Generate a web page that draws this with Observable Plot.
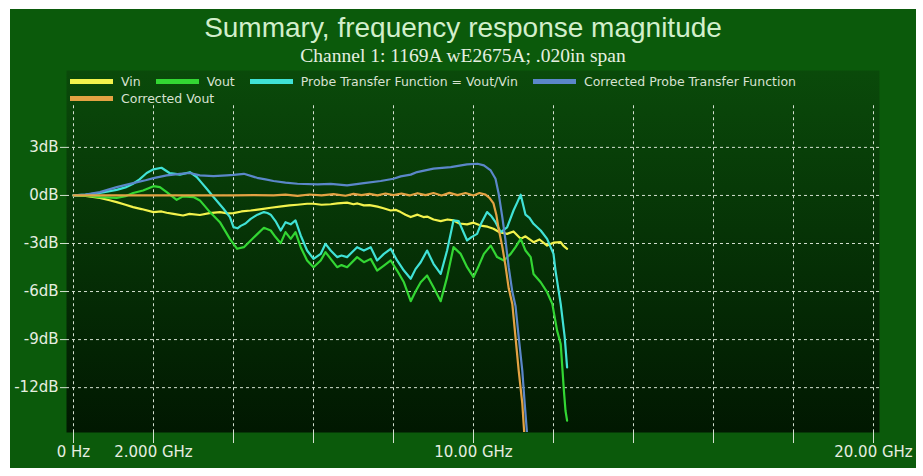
<!DOCTYPE html>
<html><head><meta charset="utf-8">
<script src="https://cdn.jsdelivr.net/npm/d3@7"></script>
<script src="https://cdn.jsdelivr.net/npm/@observablehq/plot@0.6"></script>
<style>
body{margin:0;background:#fff;}
#wrap{position:relative;width:923px;height:476px;background:#fff;overflow:hidden;}
#panel{position:absolute;left:10px;top:9px;width:906px;height:459px;background:#0b5a0b;}
#title{position:absolute;left:0;width:906px;top:5px;text-align:center;font-family:"Liberation Sans",Arial,sans-serif;font-size:28px;line-height:28px;color:#d2efcb;white-space:nowrap;}
#subtitle{position:absolute;left:0;width:906px;top:37px;text-align:center;font-family:"Liberation Serif","Times New Roman",serif;font-size:19.5px;line-height:19.5px;color:#e6f0e0;white-space:nowrap;}
#chart{position:absolute;left:0;top:53px;}
#legend{position:absolute;left:60px;top:64px;width:805px;display:flex;flex-wrap:wrap;font-family:"DejaVu Sans",sans-serif;font-size:12.5px;color:#d8e2d2;z-index:2;}
.item{display:flex;align-items:center;height:17px;line-height:17px;margin-right:15px;white-space:nowrap;}
.sw{display:inline-block;width:43px;height:5px;margin-right:8px;}
</style>
</head><body>
<div id="wrap"><div id="panel">
<div id="title">Summary, frequency response magnitude</div>
<div id="subtitle">Channel 1: 1169A wE2675A; .020in span</div>
<div id="chart"></div>
<div id="legend"></div>
</div></div>
<script>
// ---- data (GHz, dB) ----
const seriesNames = ["Vin", "Vout", "Probe Transfer Function = Vout/Vin", "Corrected Probe Transfer Function", "Corrected Vout"];
const seriesColors = ["#f2f24c", "#33d633", "#40e2d6", "#5b87c9", "#e3a243"];

const vinFreq = [0,0.3,0.66,0.9,1.08,1.3,1.49,1.7,2.0,2.2,2.33,2.5,2.74,2.9,3.16,3.4,3.66,3.85,4.0,4.2,4.43,4.7,4.93,5.2,5.4,5.6,5.84,6.0,6.2,6.43,6.6,6.84,7.0,7.1,7.26,7.4,7.6,7.75,7.93,8.05,8.18,8.3,8.43,8.6,8.75,8.84,9.0,9.18,9.35,9.5,9.65,9.84,10.0,10.18,10.35,10.5,10.65,10.84,11.0,11.18,11.3,11.5,11.65,11.84,12.0,12.18,12.25,12.34];
const vinDb   = [0,-0.03,-0.15,-0.3,-0.42,-0.58,-0.73,-0.85,-1.04,-1.0,-1.08,-1.15,-1.25,-1.15,-1.22,-1.1,-1.04,-1.12,-1.1,-1.0,-0.94,-0.85,-0.77,-0.68,-0.62,-0.58,-0.52,-0.52,-0.58,-0.55,-0.5,-0.45,-0.55,-0.5,-0.62,-0.6,-0.7,-0.8,-0.94,-0.9,-1.04,-1.2,-1.35,-1.2,-1.35,-1.32,-1.5,-1.6,-1.5,-1.56,-1.75,-1.81,-1.7,-1.88,-1.95,-2.08,-2.3,-2.4,-2.25,-2.71,-2.55,-2.92,-2.75,-3.13,-2.95,-2.92,-3.15,-3.33];

const voutFreq = [0,0.3,0.66,1.08,1.3,1.49,1.74,2.0,2.16,2.33,2.58,2.74,3.0,3.16,3.41,3.66,3.91,4.09,4.26,4.43,4.6,4.76,4.93,5.05,5.18,5.3,5.43,5.55,5.68,5.84,6.0,6.18,6.3,6.43,6.59,6.7,6.84,7.09,7.26,7.43,7.59,7.76,7.93,8.09,8.26,8.43,8.55,8.68,8.84,9.0,9.18,9.34,9.5,9.68,9.84,10.0,10.13,10.26,10.43,10.59,10.76,10.93,11.05,11.18,11.3,11.43,11.5,11.68,11.84,11.97,12.09,12.18,12.22,12.26,12.3,12.34];
const voutDb   = [0,-0.02,-0.1,-0.15,-0.05,0.15,0.31,0.58,0.52,0.21,-0.27,-0.06,-0.1,-0.31,-1.04,-1.67,-2.71,-3.33,-3.23,-2.81,-2.4,-2.02,-2.19,-2.6,-2.98,-2.29,-2.71,-2.29,-3.23,-4.06,-4.48,-4.06,-3.54,-3.96,-4.48,-4.35,-4.48,-3.85,-4.17,-3.96,-4.69,-4.38,-4.06,-4.69,-5.42,-6.6,-6.0,-5.42,-5.0,-5.73,-6.6,-5.1,-3.23,-3.65,-4.48,-5.1,-4.4,-3.65,-3.13,-3.85,-4.06,-3.65,-3.23,-2.71,-3.44,-3.85,-4.9,-5.42,-6.04,-6.77,-8.44,-9.27,-10.73,-12.19,-13.44,-14.06];

const probeFreq = [0,0.3,0.66,1.08,1.3,1.49,1.65,1.83,2.0,2.2,2.4,2.55,2.66,2.91,3.08,3.2,3.33,3.5,3.75,3.91,4.0,4.1,4.18,4.3,4.43,4.6,4.76,4.85,4.93,5.05,5.18,5.3,5.43,5.55,5.68,5.84,6.0,6.18,6.3,6.43,6.59,6.7,6.84,7.09,7.26,7.43,7.59,7.76,7.93,8.09,8.26,8.43,8.55,8.68,8.84,9.0,9.18,9.34,9.5,9.63,9.75,9.84,9.95,10.09,10.2,10.34,10.45,10.55,10.68,10.84,11.0,11.1,11.18,11.3,11.4,11.5,11.68,11.84,12.0,12.05,12.18,12.28,12.34];
const probeDb   = [0,0.05,0.15,0.35,0.5,0.73,1.0,1.4,1.63,1.73,1.4,1.35,1.3,1.45,1.15,0.8,0.42,-0.1,-0.83,-1.35,-1.98,-2.05,-1.9,-1.75,-1.46,-1.2,-1.04,-1.1,-1.2,-1.6,-2.19,-1.67,-1.8,-1.56,-2.5,-3.44,-3.96,-3.65,-3.02,-3.44,-3.85,-3.75,-3.85,-3.23,-3.44,-3.23,-4.06,-3.65,-3.33,-4.06,-4.69,-5.2,-4.6,-4.17,-3.44,-4.27,-4.9,-3.44,-1.56,-1.6,-2.3,-2.81,-2.6,-2.4,-1.7,-1.04,-1.3,-1.67,-2.29,-2.0,-0.94,-0.4,0.05,-1.2,-1.4,-1.77,-2.19,-2.71,-3.65,-4.69,-6.77,-8.85,-10.73];

const corrProbeFreq = [0,0.3,0.66,1.08,1.49,1.8,2.0,2.33,2.66,2.91,3.16,3.5,3.83,4.0,4.26,4.59,4.8,5.0,5.3,5.6,6.1,6.43,6.84,7.26,7.68,8.0,8.18,8.43,8.59,9.0,9.43,9.84,10.1,10.26,10.43,10.55,10.63,10.72,10.8,10.88,10.97,11.05,11.13,11.22,11.28,11.34];
const corrProbeDb   = [0,0.05,0.21,0.52,0.77,0.95,1.08,1.25,1.35,1.4,1.25,1.2,1.25,1.28,1.35,1.1,1.0,0.9,0.8,0.73,0.69,0.72,0.63,0.77,0.9,1.04,1.19,1.3,1.46,1.67,1.77,1.94,1.98,1.88,1.56,1.04,0.1,-1.35,-2.81,-4.48,-6.0,-6.9,-8.85,-10.94,-13.0,-14.9];

const corrVoutFreq = [0,0.5,1,1.5,2,2.5,3,3.5,4,4.5,5,5.3,5.6,5.9,6.2,6.5,6.8,7.0,7.2,7.4,7.6,7.8,8.0,8.2,8.4,8.6,8.8,9.0,9.2,9.4,9.6,9.8,10.0,10.15,10.3,10.4,10.5,10.57,10.63,10.72,10.8,10.88,10.97,11.05,11.13,11.22,11.27];
const corrVoutDb   = [0,0,0,0,0,0,0,0,0,0.02,0,0.05,-0.03,0.06,0,0.08,-0.02,0.1,0.02,0.1,0,0.12,0.02,0.12,0,0.14,0.02,0.15,0,0.16,0.02,0.15,0,0.15,0.05,-0.15,-0.5,-1.2,-2.1,-3.2,-4.4,-5.8,-6.77,-8.85,-10.94,-13.0,-14.9];

const xGridValues = [0,2,4,6,8,10,12,14,16,18,20];
const xLabelValues = [0,2,10,20];
const xLabelTexts = ["0 Hz","2.000 GHz","10.00 GHz","20.00 GHz"];
const yTickValues = [3,0,-3,-6,-9,-12];

const seriesFreq = [vinFreq, voutFreq, probeFreq, corrProbeFreq, corrVoutFreq];
const seriesDb = [vinDb, voutDb, probeDb, corrProbeDb, corrVoutDb];

const xDomain = [-0.175, 20.15];
const yDomain = [-14.8, 7.8];
const gridTop = 5.6;

const lineMarks = seriesDb.map((db, k) =>
  Plot.line(db, {x: seriesFreq[k], y: db, stroke: seriesColors[k], strokeWidth: 2.2, clip: true})
);

const chart = Plot.plot({
  width: 906, height: 406,
  marginLeft: 56, marginRight: 37, marginTop: 8, marginBottom: 36,
  x: {domain: xDomain},
  y: {domain: yDomain},
  style: {background: "transparent", color: "#e6eee0", fontFamily: "'DejaVu Sans', sans-serif", fontSize: "15px", overflow: "visible"},
  marks: [
    Plot.frame({fill: "url(#plotGrad)", stroke: "none"}),
    Plot.ruleY(yTickValues, {stroke: "#d4e0d0", strokeDasharray: "3,3", strokeWidth: 1}),
    Plot.ruleX(xGridValues, {y1: gridTop, y2: yDomain[0], stroke: "#d4e0d0", strokeDasharray: "3,3", strokeWidth: 1}),
    Plot.axisY(yTickValues, {tickFormat: d => `${d}dB`, tickSize: 6, tickPadding: 2, label: null, stroke: "#d4e0d0", fontSize: 15, fill: "#e6eee0"}),
    Plot.axisX(xGridValues, {tickFormat: d => { const i = xLabelValues.indexOf(d); return i >= 0 ? xLabelTexts[i] : ""; }, tickSize: 11, tickPadding: 3, label: null, stroke: "#d4e0d0", fontSize: 15, fill: "#e6eee0"}),
    ...lineMarks
  ]
});

const ns = "http://www.w3.org/2000/svg";
const defs = document.createElementNS(ns, "defs");
defs.innerHTML = '<linearGradient id="plotGrad" x1="0" y1="0" x2="0" y2="1"><stop offset="0" stop-color="#0a4a0a"/><stop offset="1" stop-color="#011801"/></linearGradient>';
chart.insertBefore(defs, chart.firstChild);
document.getElementById("chart").appendChild(chart);

const legend = document.getElementById("legend");
seriesNames.forEach((name, k) => {
  const item = document.createElement("div");
  item.className = "item";
  const sw = document.createElement("span");
  sw.className = "sw";
  sw.style.background = seriesColors[k];
  const t = document.createElement("span");
  t.textContent = name;
  item.appendChild(sw); item.appendChild(t);
  legend.appendChild(item);
});
</script>
</body></html>
